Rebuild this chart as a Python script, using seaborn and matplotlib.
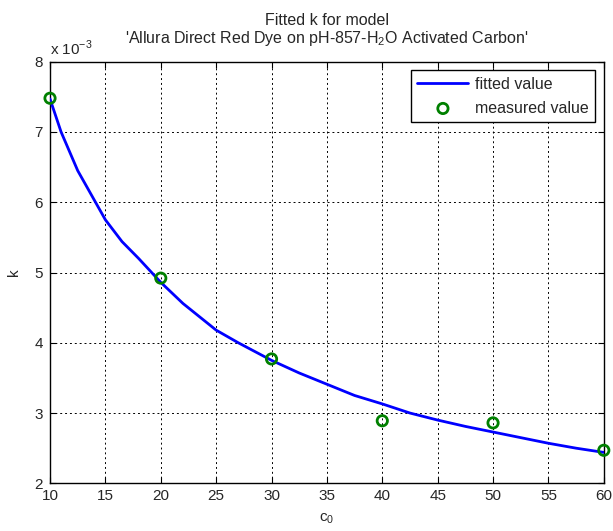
import matplotlib
matplotlib.use("Agg")
import matplotlib.pyplot as plt
import seaborn as sns
import pandas as pd
from matplotlib.ticker import FuncFormatter, MultipleLocator

# fitted curve, k in units of 1e-3
fit_c0 = [10, 11, 12.5, 14, 15, 16.5, 18, 20, 22, 23.5, 25, 27, 30, 32.5, 35,
          37.5, 40, 42.5, 45, 47.5, 50, 52.5, 55, 57.5, 60]
fit_k = [7.47, 7.0, 6.45, 6.03, 5.75, 5.44, 5.2, 4.86, 4.56, 4.37, 4.18, 4.0,
         3.75, 3.57, 3.41, 3.25, 3.13, 3.0, 2.9, 2.81, 2.73, 2.65, 2.57, 2.5, 2.44]
# measured values
meas_c0 = [10, 20, 30, 40, 50, 60]
meas_k = [7.48, 4.92, 3.77, 2.89, 2.86, 2.47]

fit_df = pd.DataFrame({"c0": fit_c0, "k": [v * 1e-3 for v in fit_k]})
meas_df = pd.DataFrame({"c0": meas_c0, "k": [v * 1e-3 for v in meas_k]})

sns.set_style("white")
plt.rcParams["font.family"] = ["Liberation Sans", "DejaVu Sans"]
plt.rcParams["mathtext.fontset"] = "custom"
plt.rcParams["mathtext.rm"] = "Liberation Sans"

fig = plt.figure(figsize=(6.13, 5.31), dpi=100)
ax = fig.add_axes([0.0816, 0.0898, 0.9034, 0.7940])

sns.lineplot(data=fit_df, x="c0", y="k", ax=ax, color="#0000ff", linewidth=2,
             label="fitted value", zorder=3)
sns.scatterplot(data=meas_df, x="c0", y="k", ax=ax, marker="o", s=55,
                facecolor="none", edgecolor="#008000", linewidth=2,
                label="measured value", zorder=4, clip_on=False)

ax.set_xlim(10, 60)
ax.set_ylim(2e-3, 8e-3)
ax.xaxis.set_major_locator(MultipleLocator(5))
ax.yaxis.set_major_locator(MultipleLocator(1e-3))
ax.yaxis.set_major_formatter(FuncFormatter(lambda v, p: f"{v*1e3:g}"))
ax.grid(True, color="black", linestyle=(0, (2, 3)), linewidth=0.7)
ax.tick_params(direction="in", length=4, labelsize=11, color="black",
               left=True, bottom=True, right=True, top=True)
ax.tick_params(axis="y", pad=5)
ax.tick_params(axis="x", pad=4)
for s in ax.spines.values():
    s.set_color("black")
    s.set_linewidth(1)

ax.set_xlabel(r"c$_\mathregular{0}$", fontsize=11, labelpad=6)
ax.set_ylabel("k", fontsize=11, labelpad=10)
ax.set_title("Fitted k for model\n'Allura Direct Red Dye on pH-857-H$_\\mathregular{2}$O Activated Carbon'",
             fontsize=11.5, pad=13.5, linespacing=1.1)
ax.text(0.0, 1.016, r"x 10$^\mathregular{-3}$", transform=ax.transAxes,
        fontsize=11, ha="left", va="baseline")

leg = ax.legend(loc="upper right", fontsize=11.5, frameon=True, fancybox=False,
                edgecolor="black", framealpha=1, borderpad=0.4,
                handlelength=3.2, handletextpad=0.4, labelspacing=0.55,
                borderaxespad=0.55)
leg.get_frame().set_linewidth(1)

fig.savefig("out.png", dpi=100)
